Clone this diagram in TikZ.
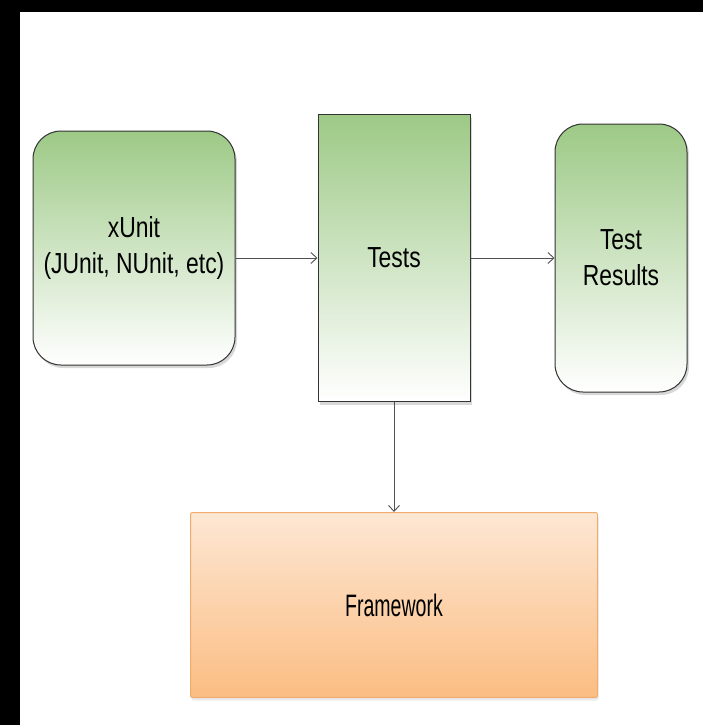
\documentclass[tikz,border=0pt]{standalone}
\usepackage{fontspec}
\setmainfont{Liberation Sans}[FakeStretch=0.79]
\newfontfamily\fwfont{Liberation Sans}[FakeStretch=0.63]
\usepackage{tikz}
\usetikzlibrary{positioning,shadows,arrows.meta}
\definecolor{boxgreen}{RGB}{157,201,134}
\definecolor{fwtop}{RGB}{253,231,212}
\definecolor{fwbottom}{RGB}{251,189,130}
\definecolor{fwline}{RGB}{240,172,110}
\definecolor{linkgray}{RGB}{80,80,80}
\tikzstyle{greenbox} = [draw=black!80, line width=1pt, top color=boxgreen, bottom color=white, drop shadow={opacity=0.3, shadow xshift=2pt, shadow yshift=-3pt}, align=center, font=\fontsize{29}{36}\selectfont]
\tikzstyle{fwbox} = [draw=fwline, line width=1pt, rounded corners=2pt, top color=fwtop, bottom color=fwbottom, drop shadow={opacity=0.15, shadow xshift=1pt, shadow yshift=-3pt}, font=\fwfont\fontsize{31}{36}\selectfont]
\tikzstyle{link} = [draw, linkgray, line width=0.9pt, -{Straight Barb[length=6pt,width=11pt]}]

\begin{document}
\begin{tikzpicture}[x=1pt, y=-1pt]
% frame of the screen grab
\useasboundingbox (0,0) rectangle (703,725);
\fill [white] (0,0) rectangle (703,725);
\fill [black] (0,0) rectangle (703,12);
\fill [black] (0,0) rectangle (20,725);

% top row
\node [greenbox, rounded corners=28pt, minimum width=202pt, minimum height=234pt] at (134,248) (xunit) {xUnit\\(JUnit, NUnit, etc)};
\node [greenbox, minimum width=152pt, minimum height=287pt] at (394,258) (tests) {Tests};
\node [greenbox, rounded corners=28pt, minimum width=132pt, minimum height=268pt] at (621,258) (results) {Test\\Results};

% bottom
\node [fwbox, minimum width=407pt, minimum height=185pt] at (394,605) (framework) {Framework};

% arrows
\path [link] (xunit.east |- tests.west) to (tests.west);
\path [link] (tests.east) to (results.west |- tests.east);
\path [link] (tests.south) to (framework.north);
\end{tikzpicture}
\end{document}
